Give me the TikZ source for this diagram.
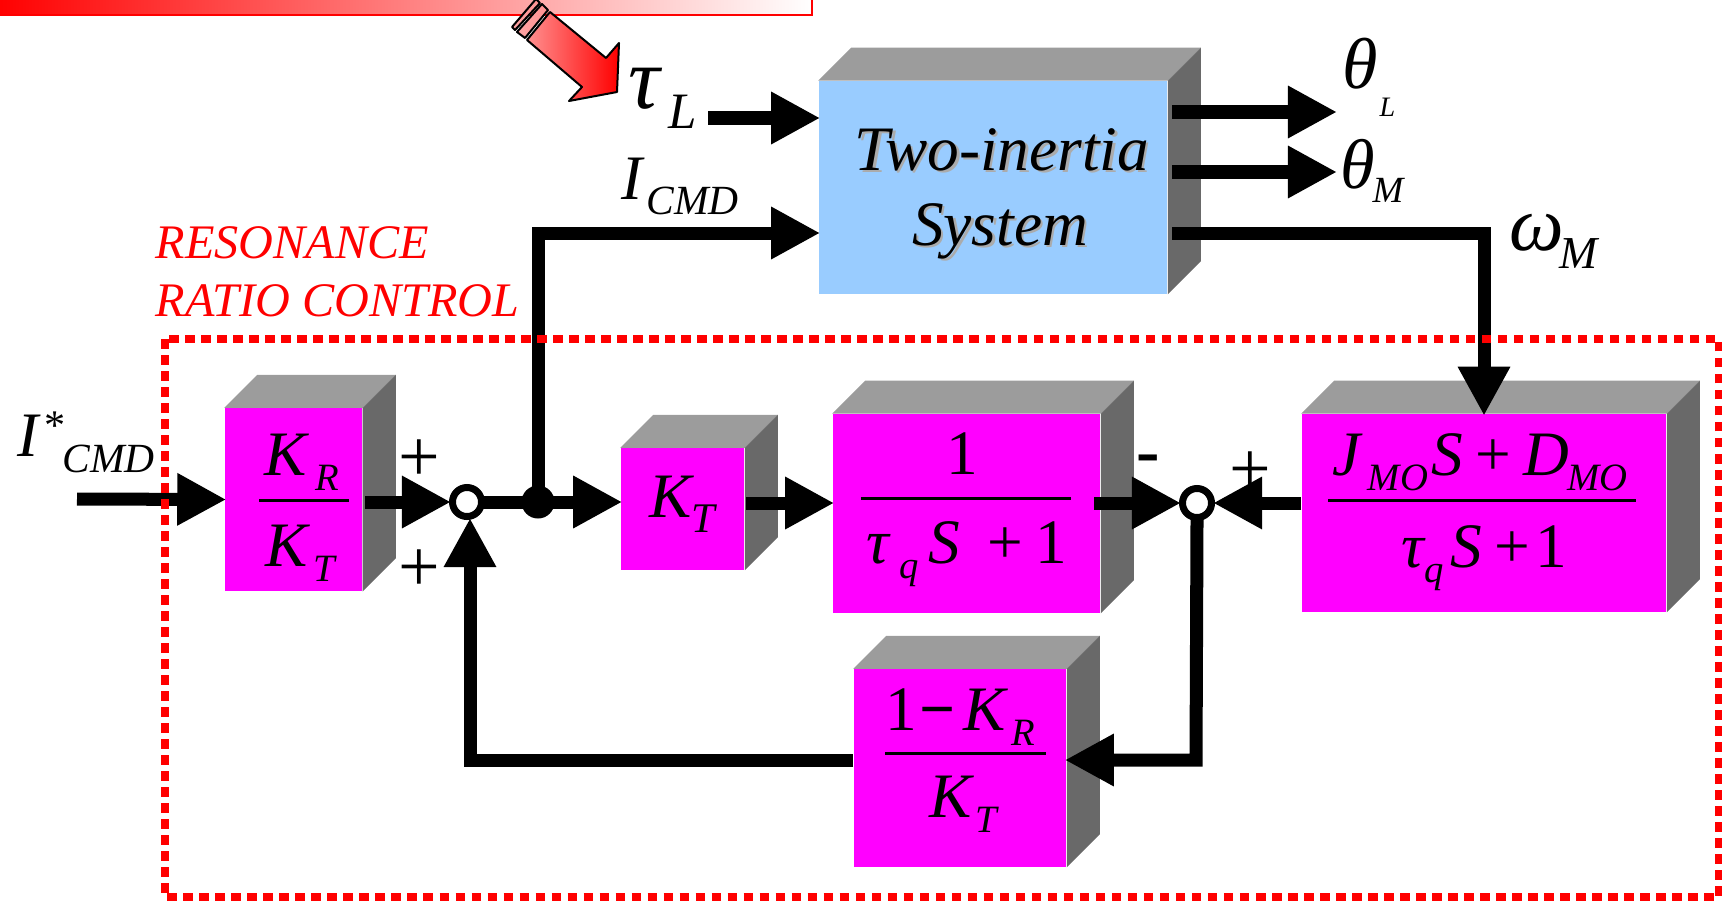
\documentclass[tikz,border=0pt]{standalone}
\usepackage{fontspec}
\setmainfont{Liberation Serif}
\usetikzlibrary{arrows.meta,calc}
\definecolor{sysblue}{HTML}{99CCFF}
\definecolor{boxmagenta}{HTML}{FF00FF}
\definecolor{topgray}{HTML}{9C9C9C}
\definecolor{sidegray}{HTML}{696969}
\definecolor{shadowgray}{HTML}{ABABAB}
\definecolor{arrowpink}{HTML}{FF9090}
\tikzset{
  wire/.style={line width=0.13cm},
  flow/.style={wire,shorten >=-0.02cm,-{Triangle[length=0.49cm,width=0.49cm]}},
  tucked/.style={shorten <=-0.03cm},
  gainbox/.style={fill=boxmagenta,inner sep=0pt},
  sysbox/.style={fill=sysblue,inner sep=0pt},
  formula/.style={inner sep=0pt,anchor=base,font=\itshape\fontsize{18}{18}\selectfont},
  startformula/.style={formula,anchor=base west},
  redlabel/.style={inner sep=0pt,anchor=base west,text=red,font=\itshape\fontsize{13.7}{13.7}\selectfont},
  signlabel/.style={inner sep=0pt,font=\fontsize{21}{21}\selectfont},
  sumring/.style={circle,draw,fill=white,line width=0.07cm,minimum size=0.29cm,inner sep=0pt},
  loadarrow/.style={draw=black,line width=0.02cm,line join=round},
  fracrule/.style={line width=0.03cm}
}
% lowered index, size in pt
\newcommand{\lowidx}[2]{\raisebox{-0.25em}{\fontsize{#1}{#1}\selectfont #2}}
\newcommand{\gap}[1]{\hspace{#1pt}}
\newcommand{\shadowed}[1]{\makebox[0pt][l]{\hspace{0.7pt}\raisebox{-0.7pt}{\textcolor{shadowgray}{#1}}}#1}
% top and side face of a block
\newcommand{\blockfaces}[1]{
  \fill[topgray] (#1.north west) -- ++(33,-33) -- ($(#1.north east)+(33,-33)$) -- (#1.north east) -- cycle;
  \fill[sidegray] (#1.north east) -- ++(33,-33) -- ($(#1.south east)+(33,-33)$) -- (#1.south east) -- cycle;
}
\begin{document}
\begin{tikzpicture}[x=0.01cm,y=-0.01cm]
  \clip (0,0) rectangle (1722,900);

  % Banner and load arrow
  \shade[left color=red,right color=white,draw=red,line width=0.02cm] (-5,-10) rectangle (812,15);
  \shade[left color=arrowpink,right color=red,loadarrow]
    (550,12) -- (606,58) -- (619,43) -- (617,92) -- (569,101) -- (582,87) -- (527,40) -- cycle;
  \shade[left color=arrowpink!80,right color=arrowpink,loadarrow]
    (542,4) -- (548,10) -- (525,38) -- (517,32) -- cycle;
  \shade[left color=arrowpink!80,right color=arrowpink,loadarrow]
    (536,-1) -- (540,3) -- (515,30) -- (512,27) -- cycle;

  % Blocks
  \node[sysbox,minimum width=3.48cm,minimum height=2.12cm] (sys) at (993,187.5) {};
  \blockfaces{sys}
  \node[gainbox,minimum width=1.37cm,minimum height=1.82cm] (kr) at (293.5,499.5) {};
  \blockfaces{kr}
  \node[gainbox,minimum width=1.23cm,minimum height=1.21cm] (kt) at (682.5,509) {};
  \blockfaces{kt}
  \node[gainbox,minimum width=2.67cm,minimum height=1.98cm] (lag) at (966.5,513.5) {};
  \blockfaces{lag}
  \node[gainbox,minimum width=3.64cm,minimum height=1.97cm] (obs) at (1484,513) {};
  \blockfaces{obs}
  \node[gainbox,minimum width=2.12cm,minimum height=1.97cm] (fb) at (960,768) {};
  \blockfaces{fb}

  % Block texts
  \node[formula] (systop) at (1002,170) {\shadowed{Two-inertia}};
  \node[formula] (sysbot) at (1000,245) {\shadowed{System}};
  \node[startformula] (krnum) at (264,475) {K\gap{2.5}\lowidx{11}{R}};
  \draw[fracrule] (259,500) -- (349,500);
  \node[startformula] (krden) at (265,566) {K\gap{1.5}\lowidx{11}{T}};
  \node[startformula] (ktnum) at (649,517) {K\gap{0}\lowidx{12}{T}};
  \node[formula] (lagnum) at (962,474) {\upshape 1};
  \draw[fracrule] (861,498) -- (1071,498);
  \node[startformula] (lagden) at (866,563) {τ\gap{3}\lowidx{11}{q}\gap{2.5}S\gap{8}\upshape +\gap{3.5}1};
  \node[startformula] (obsnum) at (1332,475) {J\gap{2}\lowidx{11}{MO}\gap{1}S\gap{3.5}\upshape +\gap{3.5}\itshape D\gap{-0.5}\lowidx{11}{MO}};
  \draw[fracrule] (1328,500) -- (1636,500);
  \node[startformula] (obsden) at (1401,567) {τ\lowidx{11}{q}\gap{2}S\gap{3.5}\upshape +\gap{1.5}1};
  \node[startformula] (fbnum) at (885,730) {\upshape 1\gap{0.5}\bfseries −\gap{2.5}\mdseries\itshape K\gap{1.5}\lowidx{11}{R}};
  \draw[fracrule] (885,753) -- (1046,753);
  \node[startformula] (fbden) at (929,817) {K\gap{1}\lowidx{11}{T}};

  % Summing points and pick-off
  \node[sumring] (suma) at (467,502) {};
  \node[sumring] (sumb) at (1197,503) {};
  \node[circle,fill=black,minimum size=0.33cm,inner sep=0pt] (pick) at (538,502) {};

  % Free ends and corners
  \coordinate (inp) at (77,499);
  \coordinate (taustart) at (708,118);
  \coordinate (lout) at (1172,112);
  \coordinate (ltip) at (1335,112);
  \coordinate (mout) at (1172,172);
  \coordinate (mtip) at (1335,172);
  \coordinate (wout) at (1172,233);
  \coordinate (wcorner) at (1484,233);
  \coordinate (krout) at (365,502);
  \coordinate (ktout) at (746,503);
  \coordinate (lagout) at (1094,503);
  \coordinate (cmdcorner) at (538,233);
  \coordinate (fbright) at (1196,760);
  \coordinate (fbleft) at (470,760);

  % Connectors
  \draw[flow] (inp) -- (kr.west);
  \draw[flow] (krout) -- (suma.west);
  \draw[wire,tucked] (suma.east) -- (pick.center);
  \draw[flow] (pick.center) -- (kt.west |- pick);
  \draw[flow] (ktout) -- (lag.west |- ktout);
  \draw[flow] (lagout) -- (sumb.west);
  \draw[flow] (obs.west |- sumb) -- (sumb.east);
  \draw[flow,tucked] (sumb.south) -- (fbright) -- (fb.east |- fbright);
  \draw[flow] (fb.west |- fbright) -- (fbleft) -- (fbleft |- suma.south);
  \draw[flow] (pick.center) -- (cmdcorner) -- (sys.west |- cmdcorner);
  \draw[flow] (taustart) -- (sys.west |- taustart);
  \draw[flow] (lout) -- (ltip);
  \draw[flow] (mout) -- (mtip);
  \draw[flow] (wout) -- (wcorner) -- (obs.north);

  % Signal names
  \node[startformula,font=\itshape\fontsize{25}{25}\selectfont] (taul) at (628,108) {τ};
  \node[startformula,font=\itshape\fontsize{14.5}{14.5}\selectfont] (taulidx) at (668,128) {L};
  \node[startformula] (icmd) at (621,199) {I};
  \node[startformula,font=\itshape\fontsize{11.8}{11.8}\selectfont] (icmdidx) at (646,214) {CMD};
  \node[startformula] (istar) at (17,456) {I};
  \node[startformula,font=\upshape\fontsize{12}{12}\selectfont] (istarsym) at (44,439) {*};
  \node[startformula,font=\itshape\fontsize{11.8}{11.8}\selectfont] (istaridx) at (62,472) {CMD};
  \node[startformula,font=\itshape\fontsize{20.5}{20.5}\selectfont] (thl) at (1342,88) {θ};
  \node[startformula,font=\itshape\fontsize{8}{8}\selectfont] (thlidx) at (1379,116) {L};
  \node[startformula,font=\itshape\fontsize{20}{20}\selectfont] (thm) at (1340,188) {θ};
  \node[startformula,font=\itshape\fontsize{10.5}{10.5}\selectfont] (thmidx) at (1372,202) {M};
  \node[startformula,font=\itshape\fontsize{22}{22}\selectfont] (wm) at (1509,250) {ω};
  \node[startformula,font=\itshape\fontsize{13}{13}\selectfont] (wmidx) at (1559,268) {M};
  \node[redlabel] (rlabela) at (155,258) {RESONANCE};
  \node[redlabel] (rlabelb) at (155,316) {RATIO CONTROL};

  % Signs
  \node[signlabel] (plusa) at (419,461) {+};
  \node[signlabel] (plusb) at (419,571) {+};
  \node[signlabel] (plusc) at (1250,473) {+};
  \node[signlabel,font=\fontsize{20}{20}\selectfont] (minusa) at (1148,465) {\textbf{-}};

  % Control boundary
  \draw[red,line width=0.08cm,dash pattern=on 0.095cm off 0.065cm] (165,339) rectangle (1719,897);
\end{tikzpicture}
\end{document}
